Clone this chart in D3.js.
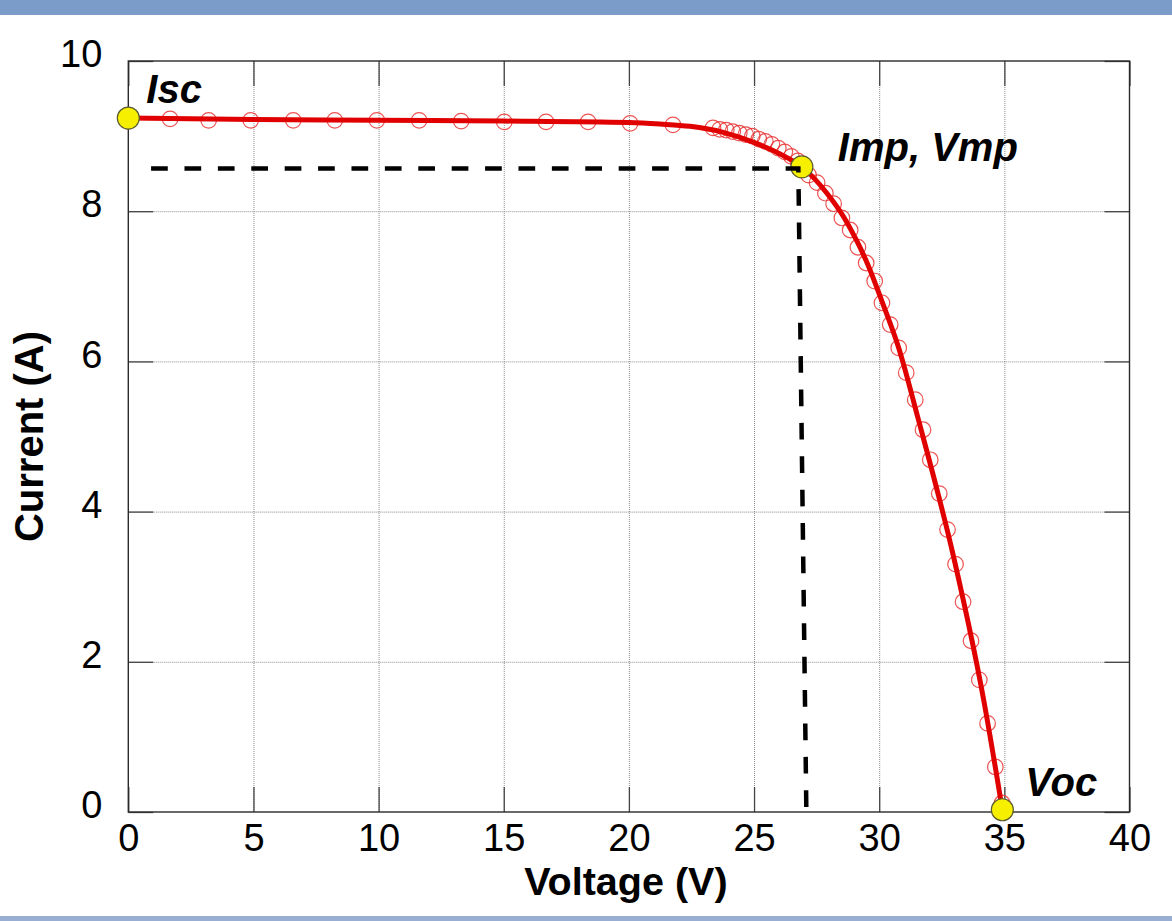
<!DOCTYPE html>
<html>
<head>
<meta charset="utf-8">
<script src="https://cdn.jsdelivr.net/npm/d3@7"></script>
<style>
  html, body { margin: 0; padding: 0; background: #fff; }
  svg { display: block; }
  text { font-family: "Liberation Sans", Arial, sans-serif; fill: #000; }
</style>
</head>
<body>
<svg id="chart" width="1172" height="921"></svg>
<script>
// ---- data ----
const xTicks = [0, 5, 10, 15, 20, 25, 30, 35, 40];
const yTicks = [0, 2, 4, 6, 8, 10];

// measured points (open red circles)
const measV = [1.67, 3.21, 4.89, 6.59, 8.25, 9.93, 11.62, 13.30, 15.02, 16.69, 18.37, 20.05, 21.76,
  23.36, 23.63, 23.89, 24.15, 24.41, 24.67, 24.93, 25.19, 25.45, 25.71, 25.97, 26.23, 26.49, 26.75, 26.97,
  27.18, 27.52, 27.85, 28.18, 28.51, 28.84, 29.15, 29.48, 29.82, 30.11, 30.44, 30.78, 31.08, 31.44,
  31.75, 32.04, 32.40, 32.73, 33.05, 33.35, 33.67, 34.00, 34.33, 34.64, 34.91];
const measI = [9.23, 9.21, 9.21, 9.21, 9.21, 9.21, 9.21, 9.20, 9.19, 9.19, 9.19, 9.17, 9.15,
  9.11, 9.09, 9.08, 9.06, 9.04, 9.02, 9.00, 8.96, 8.93, 8.89, 8.84, 8.79, 8.73, 8.67, 8.57,
  8.48, 8.38, 8.24, 8.10, 7.91, 7.75, 7.52, 7.31, 7.07, 6.78, 6.49, 6.18, 5.85, 5.49,
  5.09, 4.69, 4.24, 3.76, 3.30, 2.80, 2.28, 1.76, 1.18, 0.60, 0.12];

// model curve (red line)
const fitV = [0, 5, 10, 15, 20, 21.24, 22.44, 23.77, 24.97, 26.17, 26.91, 27.91, 28.57, 29.11, 29.48,
  30.11, 30.78, 31.57, 32.97, 34.17, 34.92];
const fitI = [9.24, 9.22, 9.21, 9.20, 9.18, 9.16, 9.13, 9.05, 8.92, 8.74, 8.59, 8.24, 7.93, 7.60, 7.34,
  6.80, 6.18, 5.22, 3.40, 1.50, 0.03];

// key points
const keyNames = ["Isc", "Imp, Vmp", "Voc"];
const keyV = [0, 26.91, 34.92];
const keyI = [9.24, 8.59, 0.03];

// dashed guide (max power point)
const dashV = [0.91, 26.77, 27.09];
const dashI = [8.57, 8.57, 0];

// ---- layout ----
(function () {
const svg = d3.select("#chart");
const W = 1172;
const mLeft = 128.3, mRight = 1129.5, mTop = 61, mBottom = 812;

svg.append("rect").attr("x", 0).attr("y", 0).attr("width", W).attr("height", 15).attr("fill", "#7b9bc8");
svg.append("rect").attr("x", 0).attr("y", 916).attr("width", W).attr("height", 5).attr("fill", "#98aed2");

const x = d3.scaleLinear().domain([0, 40]).range([mLeft, mRight]);
const y = d3.scaleLinear().domain([0, 10]).range([mBottom, mTop]);
const pw = mRight - mLeft, ph = mBottom - mTop;

// grid lines (dotted)
const gridX = svg.append("g").attr("transform", `translate(0,${mBottom})`)
  .call(d3.axisBottom(x).tickValues(xTicks.slice(1, -1)).tickSize(-ph).tickFormat(""));
const gridY = svg.append("g").attr("transform", `translate(${mLeft},0)`)
  .call(d3.axisLeft(y).tickValues(yTicks.slice(1, -1)).tickSize(-pw).tickFormat(""));
[gridX, gridY].forEach(g => {
  g.select(".domain").remove();
  g.selectAll("line").attr("stroke", "#8a8a8a").attr("stroke-width", 1).attr("stroke-dasharray", "1,1");
});

// inner tick marks on all four sides
const tl = 25;
const tb = svg.append("g").attr("transform", `translate(0,${mBottom})`)
  .call(d3.axisBottom(x).tickValues(xTicks).tickSizeInner(-tl).tickSizeOuter(0).tickFormat(""));
const tt = svg.append("g").attr("transform", `translate(0,${mTop})`)
  .call(d3.axisTop(x).tickValues(xTicks).tickSizeInner(-tl).tickSizeOuter(0).tickFormat(""));
const tlg = svg.append("g").attr("transform", `translate(${mLeft},0)`)
  .call(d3.axisLeft(y).tickValues(yTicks).tickSizeInner(-tl).tickSizeOuter(0).tickFormat(""));
const tr = svg.append("g").attr("transform", `translate(${mRight},0)`)
  .call(d3.axisRight(y).tickValues(yTicks).tickSizeInner(-tl).tickSizeOuter(0).tickFormat(""));
[tb, tt, tlg, tr].forEach(g => {
  g.select(".domain").remove();
  g.selectAll("line").attr("stroke", "#444").attr("stroke-width", 1.3);
});

// frame
svg.append("rect").attr("x", mLeft).attr("y", mTop).attr("width", pw).attr("height", ph)
  .attr("fill", "none").attr("stroke", "#2a2a2a").attr("stroke-width", 1.4);

// tick labels
const xl = svg.append("g").attr("transform", `translate(0,${mBottom})`)
  .call(d3.axisBottom(x).tickValues(xTicks).tickSize(0).tickPadding(12).tickFormat(d3.format("d")));
const yl = svg.append("g").attr("transform", `translate(${mLeft},0)`)
  .call(d3.axisLeft(y).tickValues(yTicks).tickSize(0).tickPadding(26).tickFormat(d3.format("d")));
[xl, yl].forEach(g => {
  g.select(".domain").remove();
  g.selectAll("text").attr("font-size", 38).attr("fill", "#000")
    .attr("font-family", '"Liberation Sans", Arial, sans-serif');
});
yl.selectAll("text").attr("dy", "0.15em");

// axis titles
svg.append("text").attr("x", (mLeft + mRight) / 2 - 3).attr("y", 895).attr("text-anchor", "middle")
  .attr("font-size", 39.5).attr("font-weight", "bold").text("Voltage (V)");
svg.append("text").attr("transform", `translate(43,${(mTop + mBottom) / 2}) rotate(-90)`)
  .attr("text-anchor", "middle").attr("font-size", 40).attr("font-weight", "bold").text("Current (A)");

// measured circles
const meas = measV.map((v, i) => ({ v, i: measI[i] }));
svg.append("g").selectAll("circle").data(meas).join("circle")
  .attr("cx", d => x(d.v)).attr("cy", d => y(d.i)).attr("r", 7.8)
  .attr("fill", "none").attr("stroke", "#e82828").attr("stroke-opacity", 0.8).attr("stroke-width", 1.2);

// model line
const fit = fitV.map((v, i) => ({ v, i: fitI[i] }));
svg.append("path").datum(fit)
  .attr("d", d3.line().x(d => x(d.v)).y(d => y(d.i)).curve(d3.curveMonotoneX))
  .attr("fill", "none").attr("stroke", "#e00000").attr("stroke-width", 5).attr("stroke-linejoin", "round");

// key points
const keys = keyV.map((v, i) => ({ v, i: keyI[i], name: keyNames[i] }));
svg.append("g").selectAll("circle").data(keys).join("circle")
  .attr("cx", d => x(d.v)).attr("cy", d => y(d.i)).attr("r", 11)
  .attr("fill", "#f7ef00").attr("stroke", "#5a5a30").attr("stroke-width", 1.2);

// dashed guide
const dash = dashV.map((v, i) => ({ v, i: dashI[i] }));
svg.append("path").datum(dash)
  .attr("d", d3.line().x(d => x(d.v)).y(d => y(d.i)))
  .attr("fill", "none").attr("stroke", "#000").attr("stroke-width", 4.5).attr("stroke-dasharray", "16.7,16.7");

// key labels
const offs = [[18, -15], [36, -6], [23, -14]];
svg.append("g").selectAll("text").data(keys).join("text")
  .attr("x", (d, k) => x(d.v) + offs[k][0]).attr("y", (d, k) => y(d.i) + offs[k][1])
  .attr("font-size", 40).attr("font-weight", "bold").attr("font-style", "italic")
  .text(d => d.name);
})();
</script>
</body>
</html>
